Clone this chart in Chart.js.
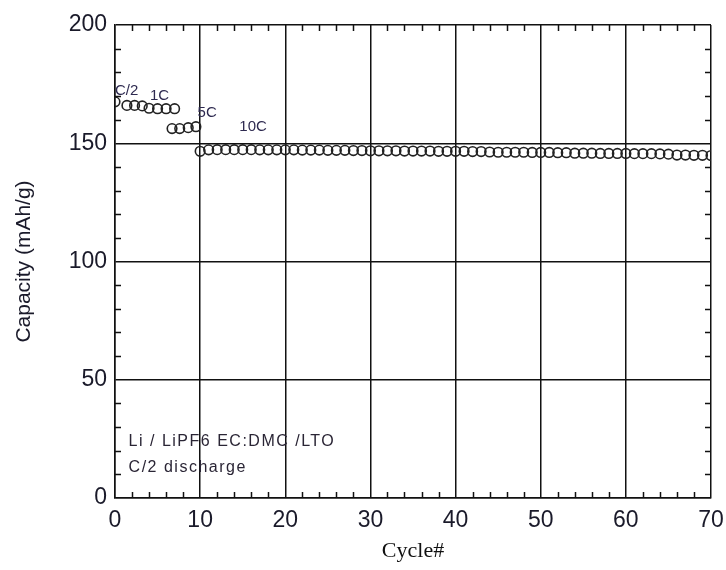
<!DOCTYPE html>
<html>
<head>
<meta charset="utf-8">
<script src="https://cdn.jsdelivr.net/npm/chart.js@4.4.1/dist/chart.umd.min.js"></script>
<style>
  html, body { margin: 0; padding: 0; background: #ffffff; }
  #wrap { width: 726px; height: 570px; }
</style>
</head>
<body>
<div id="wrap"><canvas id="c" width="726" height="570"></canvas></div>
<script>
// ---- data ----
const cyclesC2  = [0, 1.4, 2.3, 3.2];
const capC2     = [167.5, 166.0, 166.0, 165.8];

const cycles1C  = [4, 5, 6, 7];
const cap1C     = [164.8, 164.6, 164.6, 164.6];

const cycles5C  = [6.7, 7.6, 8.6, 9.5];
const cap5C     = [156.2, 156.2, 156.6, 157.0];

const cycles10C = [10, 11, 12, 13, 14, 15, 16, 17, 18, 19,
                   20, 21, 22, 23, 24, 25, 26, 27, 28, 29,
                   30, 31, 32, 33, 34, 35, 36, 37, 38, 39,
                   40, 41, 42, 43, 44, 45, 46, 47, 48, 49,
                   50, 51, 52, 53, 54, 55, 56, 57, 58, 59,
                   60, 61, 62, 63, 64, 65, 66, 67, 68, 69, 70];
const cap10C    = [146.6, 147.2, 147.3, 147.3, 147.3, 147.3, 147.3, 147.2, 147.2, 147.2,
                   147.2, 147.2, 147.1, 147.1, 147.1, 147.0, 147.0, 147.0, 146.9, 146.9,
                   146.8, 146.8, 146.8, 146.8, 146.7, 146.7, 146.7, 146.7, 146.6, 146.6,
                   146.6, 146.6, 146.5, 146.5, 146.3, 146.2, 146.2, 146.2, 146.2, 146.1,
                   146.1, 146.1, 146.0, 146.0, 145.8, 145.8, 145.8, 145.7, 145.7, 145.7,
                   145.7, 145.6, 145.6, 145.6, 145.5, 145.4, 145.0, 145.0, 144.9, 144.9, 144.8];

const xTicks = [0, 10, 20, 30, 40, 50, 60, 70];
const yTicks = [0, 50, 100, 150, 200];

// text labels: [text, x (cycle), y (capacity)]
const rateLabels = [
  ["C/2", 0.0, 170.6],
  ["1C", 4.1, 168.4],
  ["5C", 9.7, 161.2],
  ["10C", 14.6, 155.2]
];
const noteLines = [
  ["Li / LiPF6 EC:DMC /LTO", 1.6, 21.8],
  ["C/2 discharge", 1.6, 11.2]
];

function pts(xs, ys) { return xs.map((x, i) => ({ x: x, y: ys[i] })); }

const markerStyle = {
  showLine: false,
  pointStyle: 'circle',
  pointRadius: 4.8,
  pointHoverRadius: 4.8,
  pointBorderWidth: 1.6,
  pointBorderColor: '#222',
  pointBackgroundColor: 'rgba(255,255,255,0)'
};

const extrasPlugin = {
  id: 'extras',
  afterDraw(chart) {
    const ctx = chart.ctx;
    const xs = chart.scales.x, ys = chart.scales.y;
    const a = chart.chartArea;
    ctx.save();
    // inward minor ticks
    ctx.strokeStyle = '#111';
    ctx.lineWidth = 1.5;
    ctx.beginPath();
    for (let v = 10; v < 200; v += 10) {
      if (v % 50 === 0) continue;
      const y = Math.round(ys.getPixelForValue(v)) + 0.5;
      ctx.moveTo(a.left, y); ctx.lineTo(a.left + 6, y);
      ctx.moveTo(a.right, y); ctx.lineTo(a.right - 6, y);
    }
    for (let v = 2; v < 70; v += 2) {
      if (v % 10 === 0) continue;
      const x = Math.round(xs.getPixelForValue(v)) + 0.5;
      ctx.moveTo(x, a.bottom); ctx.lineTo(x, a.bottom - 6);
      ctx.moveTo(x, a.top); ctx.lineTo(x, a.top + 6);
    }
    ctx.stroke();
    // rate labels
    ctx.fillStyle = '#2e2a50';
    ctx.font = '15px "Liberation Sans", Arial, sans-serif';
    ctx.textAlign = 'left';
    ctx.textBaseline = 'alphabetic';
    rateLabels.forEach(l => {
      ctx.fillText(l[0], xs.getPixelForValue(l[1]), ys.getPixelForValue(l[2]));
    });
    // note
    ctx.font = '16px "Liberation Sans", Arial, sans-serif';
    ctx.fillStyle = '#2a2535';
    try { ctx.letterSpacing = '1.5px'; } catch (e) {}
    noteLines.forEach(l => {
      ctx.fillText(l[0], xs.getPixelForValue(l[1]), ys.getPixelForValue(l[2]));
    });
    ctx.restore();
  }
};

new Chart(document.getElementById('c'), {
  type: 'scatter',
  data: {
    datasets: [
      Object.assign({ label: 'C/2', data: pts(cyclesC2, capC2) }, markerStyle),
      Object.assign({ label: '1C', data: pts(cycles1C, cap1C) }, markerStyle),
      Object.assign({ label: '5C', data: pts(cycles5C, cap5C) }, markerStyle),
      Object.assign({ label: '10C', data: pts(cycles10C, cap10C) }, markerStyle)
    ]
  },
  options: {
    responsive: false,
    animation: false,
    events: [],
    layout: { padding: { top: 25, right: 15, left: 0, bottom: 0 } },
    plugins: { legend: { display: false }, tooltip: { enabled: false } },
    scales: {
      x: {
        type: 'linear', min: 0, max: 70,
        afterBuildTicks(scale) { scale.ticks = xTicks.map(v => ({ value: v })); },
        afterFit(scale) { scale.height = 72; scale.paddingLeft = 0; scale.paddingRight = 0; },
        grid: { color: '#111', lineWidth: 1.5, drawTicks: false },
        border: { color: '#111', width: 1.5 },
        ticks: { color: '#1a1a2a', padding: 9, font: { family: '"Liberation Sans", Arial, sans-serif', size: 23 } },
        title: { display: true, text: 'Cycle#', color: '#111',
                 font: { family: '"Liberation Serif", "Times New Roman", serif', size: 22 },
                 padding: { top: 0, bottom: 6 } }
      },
      y: {
        type: 'linear', min: 0, max: 200,
        afterBuildTicks(scale) { scale.ticks = yTicks.map(v => ({ value: v })); },
        afterFit(scale) { scale.width = 115; scale.paddingTop = 0; scale.paddingBottom = 0; },
        grid: { color: '#111', lineWidth: 1.5, drawTicks: false },
        border: { color: '#111', width: 1.5 },
        ticks: { color: '#1a1a2a', padding: 8, font: { family: '"Liberation Sans", Arial, sans-serif', size: 23 } },
        title: { display: true, text: 'Capacity (mAh/g)', color: '#1a1a2a',
                 font: { family: '"Liberation Sans", Arial, sans-serif', size: 21 },
                 padding: { top: 12, bottom: 0 } }
      }
    }
  },
  plugins: [extrasPlugin]
});
</script>
</body>
</html>
